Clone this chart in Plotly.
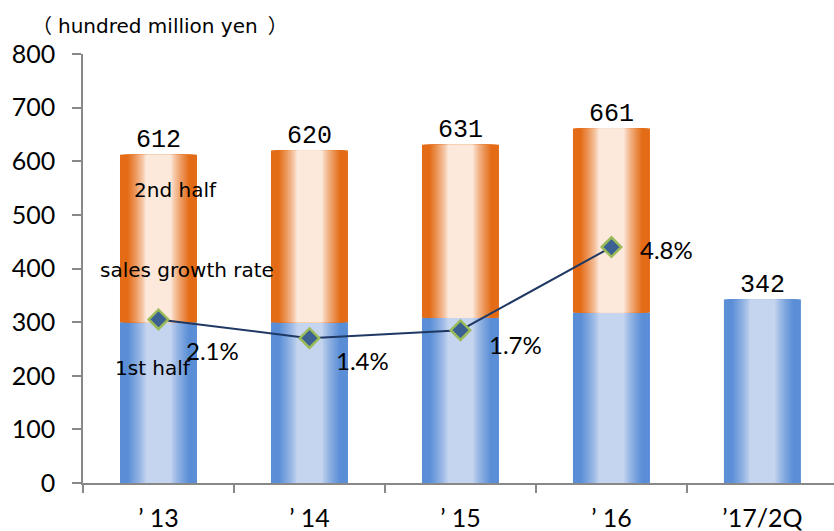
import plotly.graph_objects as go

# Sales data (hundred million yen)
categories = ["’ 13", "’ 14", "’ 15", "’ 16", "’17/2Q"]
totals = [612, 620, 631, 661, 342]
first_half = [300, 300, 308, 318, 342]
second_half = [t - f for t, f in zip(totals[:4], first_half[:4])]
growth_rate = [2.1, 1.4, 1.7, 4.8]
growth_labels = [f"{g}%" for g in growth_rate]

BAR_W = 0.51
N_LAYERS = 20


def hex_to_rgb(h):
    h = h.lstrip("#")
    return tuple(int(h[i:i + 2], 16) for i in (0, 2, 4))


def lerp(c1, c2, t):
    a, b = hex_to_rgb(c1), hex_to_rgb(c2)
    return "rgb({},{},{})".format(*[round(a[i] + (b[i] - a[i]) * t) for i in range(3)])


def gradient_layers(edge, center):
    """(width fraction, colour) pairs: wide dark layers below, narrow light ones on top."""
    layers = []
    for k in range(N_LAYERS):
        s = 1.0 - k * (0.7 / (N_LAYERS - 1))
        t = min(max((s - 0.34) / 0.48, 0.0), 1.0) ** 0.8
        layers.append((s, lerp(center, edge, t)))
    return layers


fig = go.Figure()

# first half (blue), horizontal gradient built from stacked layers
for frac, col in gradient_layers("#5A8ED6", "#C5D4EF"):
    fig.add_trace(go.Bar(x=categories, y=first_half, width=BAR_W * frac,
                         marker=dict(color=col, line=dict(width=0)),
                         hoverinfo="skip", showlegend=False))

# second half (orange) on top of the first half
for frac, col in gradient_layers("#E46C17", "#FCE9DC"):
    fig.add_trace(go.Bar(x=categories[:4], y=second_half, base=first_half[:4],
                         width=BAR_W * frac,
                         marker=dict(color=col, line=dict(width=0)),
                         hoverinfo="skip", showlegend=False))

# growth rate line on secondary axis
fig.add_trace(go.Scatter(x=categories[:4], y=growth_rate, yaxis="y2",
                         mode="lines+markers",
                         line=dict(color="#1F3864", width=2),
                         marker=dict(symbol="diamond", size=15, color="#3A6192",
                                     line=dict(color="#9BBB59", width=2.5)),
                         hoverinfo="skip", showlegend=False))

annotations = []

# totals above bars
for cat, tot in zip(categories, totals):
    annotations.append(dict(x=cat, y=tot, xref="x", yref="y", text=str(tot),
                            showarrow=False, yanchor="bottom", yshift=-2,
                            font=dict(family="Liberation Mono", size=25, color="#000000")))

label_shift = [(54, -31), (53, -22), (55, -14), (55, -2)]
for cat, g, lab, (dx, dy) in zip(categories, growth_rate, growth_labels, label_shift):
    annotations.append(dict(x=cat, y=g, xref="x", yref="y2", text=lab, showarrow=False,
                            xshift=dx, yshift=dy,
                            font=dict(family="Lato", size=24, color="#000000")))

text_font = dict(family="'DejaVu Sans', 'Noto Sans CJK JP'", size=20, color="#000000")
# unit caption: full-width brackets with a little breathing room around them
unit_title = ("<span style='font-family:Noto Sans CJK JP;letter-spacing:6px'>（</span>"
              "hundred million ye<span style='letter-spacing:10px'>n</span>"
              "<span style='font-family:Noto Sans CJK JP'>）</span>")
for x, y, txt in [(0.1238, 0.683, "2nd half"),
                  (0.1385, 0.4965, "sales growth rate"),
                  (0.0932, 0.268, "1st half"),
                  (0.1025, 1.0676, unit_title)]:
    annotations.append(dict(x=x, y=y, xref="paper", yref="paper", text=txt,
                            xanchor="center", yanchor="middle",
                            showarrow=False, font=text_font))

axis_col = "#888888"
fig.update_layout(
    width=834, height=531,
    margin=dict(l=83, r=0, t=54, b=48),
    paper_bgcolor="white", plot_bgcolor="white",
    barmode="overlay",
    showlegend=False,
    annotations=annotations,
    xaxis=dict(type="category", range=[-0.5, 4.474], showgrid=False, zeroline=False,
               showline=True, linecolor=axis_col, linewidth=1.5,
               ticks="outside", ticklen=8, tickcolor=axis_col, tickwidth=1.5,
               tickson="boundaries", ticklabelstandoff=12,
               tickfont=dict(family="Lato", size=25, color="#000000")),
    yaxis=dict(range=[0, 800], dtick=100, showgrid=False, zeroline=False,
               showline=True, linecolor=axis_col, linewidth=1.5,
               ticks="outside", ticklen=9, tickcolor=axis_col, tickwidth=1.5,
               ticklabelstandoff=12,
               tickfont=dict(family="Lato", size=25, color="#000000")),
    yaxis2=dict(overlaying="y", range=[-4, 12], visible=False),
)

fig.write_html("out.html")
